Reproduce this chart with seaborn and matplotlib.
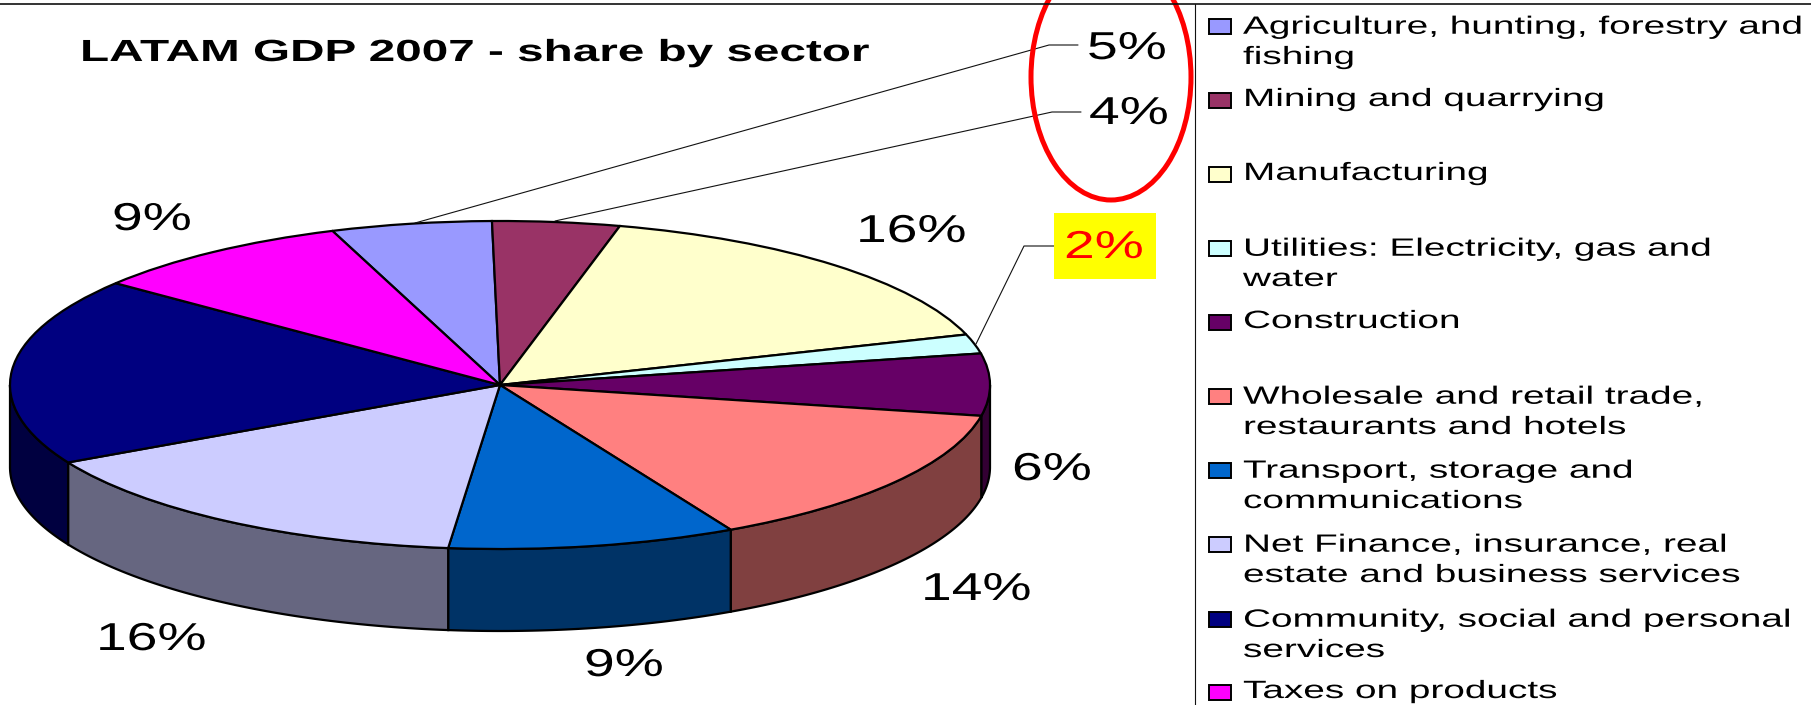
import numpy as np
import matplotlib
matplotlib.use("Agg")
import matplotlib.pyplot as plt
import matplotlib.patheffects as pe
from matplotlib.patches import Ellipse, Rectangle
from matplotlib.transforms import Affine2D
import seaborn as sns

# ---- data -------------------------------------------------------------
sectors = ["Agriculture, hunting, forestry and\nfishing", "Mining and quarrying",
           "Manufacturing", "Utilities: Electricity, gas and\nwater", "Construction",
           "Wholesale and retail trade,\nrestaurants and hotels",
           "Transport, storage and\ncommunications",
           "Net Finance, insurance, real\nestate and business services",
           "Community, social and personal\nservices", "Taxes on products"]
shares = [5.3, 4.2, 16.1, 1.9, 6.1, 14.2, 9.5, 15.5, 18.5, 8.8]
colors = ["#9999FF", "#993366", "#FFFFCC", "#CCFFFF", "#660066",
          "#FF8080", "#0066CC", "#CCCCFF", "#000080", "#FF00FF"]
label_text = ["5%", "4%", "16%", "2%", "6%", "14%", "9%", "16%", "9%"]
title = "LATAM GDP 2007 - share by sector"

W, H = 1811, 705
sns.set_theme(style="white")
palette = sns.color_palette(colors)
plt.rcParams["font.family"] = ["Liberation Sans", "DejaVu Sans"]


class Stretch(pe.AbstractPathEffect):
    """Widen glyphs horizontally about the text's left anchor."""
    def __init__(self, sx):
        super().__init__()
        self.sx = sx

    def draw_path(self, renderer, gc, tpath, affine, rgbFace=None):
        m = affine.get_matrix().copy()
        m[0, 0] *= self.sx
        renderer.draw_path(gc, tpath, Affine2D(m), rgbFace)


fig = plt.figure(figsize=(W / 100, H / 100), dpi=100, facecolor="white")

# ---- pie --------------------------------------------------------------
cx, cy, rx, ry, depth = 500, 385, 490, 164, 82
ax = fig.add_axes([0, 0, 1, 1])
ax.pie(shares, colors=palette, startangle=110, counterclock=False, frame=True,
       wedgeprops=dict(edgecolor="black", linewidth=1.6, zorder=3))
ax.set_aspect("auto")
ax.set_xlim((0 - cx) / rx, (W - cx) / rx)
ax.set_ylim((cy - H) / ry, cy / ry)
ax.axis("off")

edges = -20 + np.cumsum([0] + shares) / sum(shares) * 360
d = depth / ry
for i, col in enumerate(palette):
    a1, a2 = max(edges[i], 90), min(edges[i + 1], 270)
    if a2 <= a1:
        continue
    t = np.radians(np.linspace(a1, a2, 60))
    xs = np.r_[np.sin(t), np.sin(t)[::-1]]
    ys = np.r_[np.cos(t), np.cos(t)[::-1] - d]
    ax.fill(xs, ys, facecolor=tuple(c * 0.5 for c in col), edgecolor="black",
            linewidth=1.6, zorder=2)

# ---- overlay in pixel coordinates -------------------------------------
ov = fig.add_axes([0, 0, 1, 1], facecolor="none")
ov.set_xlim(0, W)
ov.set_ylim(H, 0)
ov.axis("off")

ov.plot([0, W], [3.5, 3.5], color="#111111", lw=1.2, zorder=6)
ov.plot([1194.5, 1194.5], [3.5, H], color="#111111", lw=0.8, zorder=1)

ov.text(80, 61, title, fontsize=22, fontweight="bold", color="black", ha="left",
        va="baseline", path_effects=[Stretch(1.56)])

# leaders
ov.plot([415, 1049, 1078], [223, 45, 45], color="#111111", lw=0.8)
ov.plot([555, 1052, 1081], [221, 112, 112], color="#111111", lw=0.8)
ov.plot([976, 1024, 1054], [344, 246, 246], color="#111111", lw=0.8)

# highlight
ov.add_patch(Rectangle((1054, 213), 102, 66, facecolor="#FFFF00", edgecolor="none", zorder=2))
ov.add_patch(Ellipse((1111, 77), 160, 246, facecolor="none", edgecolor="#FF0000",
                     linewidth=3.6, zorder=5, clip_on=True))

# slice labels
label_x = [1087, 1089, 856, 1064, 1012, 921, 584, 96, 112]
label_y = [59, 124, 242, 258, 480, 600, 676, 650, 230]
for s, x, y in zip(label_text, label_x, label_y):
    red = s == "2%" and y == 258
    ov.text(x, y, s, fontsize=28, color="#FF0000" if red else "black", ha="left",
            va="baseline", zorder=4, path_effects=[Stretch(1.42)])

# legend
key_y = [19, 93, 167, 241, 315, 389, 463, 537, 612, 685]
for name, col, y in zip(sectors, palette, key_y):
    ov.add_patch(Rectangle((1209, y), 22, 15, facecolor=col, edgecolor="black", linewidth=1.4))
    extra = 32 * name.count("\n")
    ov.text(1243, y + 13 + extra, name, fontsize=18, color="black", ha="left", va="baseline",
            linespacing=1.33, path_effects=[Stretch(1.55)])

fig.savefig("out.png", dpi=100)
